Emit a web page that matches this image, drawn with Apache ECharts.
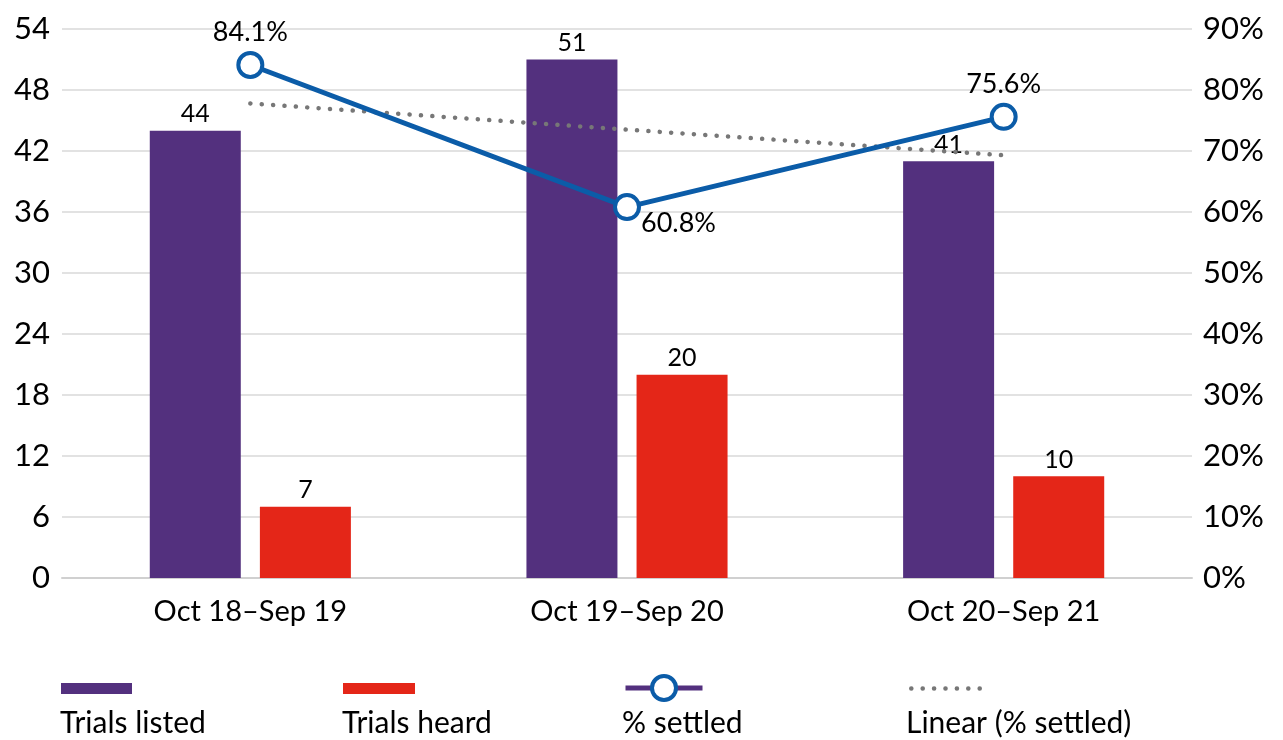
<!DOCTYPE html>
<html>
<head>
<meta charset="utf-8">
<script src="https://cdn.jsdelivr.net/npm/echarts@6/dist/echarts.min.js"></script>
<style>
  html, body { margin: 0; padding: 0; background: #fff; }
  #chart { width: 1283px; height: 740px; }
</style>
</head>
<body>
<div id="chart"></div>
<script>
// Court trial figures by reporting year
const categories = ['Oct 18\u2013Sep 19', 'Oct 19\u2013Sep 20', 'Oct 20\u2013Sep 21'];
const trialsListed = [44, 51, 41];
const trialsHeard = [7, 20, 10];
const pctSettled = [84.1, 60.8, 75.6];
const pctTrend = [77.8, 73.5, 69.3];
const seriesNames = ['Trials listed', 'Trials heard', '% settled', 'Linear (% settled)'];

const FONT = 'Lato';
const PURPLE = '#53307e';
const RED = '#e42618';
const BLUE = '#0b5ca8';
const GREY = '#777777';
const TREND_DASH = [0.1, 11.3];

const chart = echarts.init(document.getElementById('chart'), null, { renderer: 'canvas' });

const legendPos = [
  { left: 61, top: 683, w: 71, h: 11 },
  { left: 343, top: 683, w: 72, h: 11 },
  { left: 623, top: 673, w: 77, h: 30 },
  { left: 909, top: 683, w: 72, h: 11 }
];
const legendTextX = [60, 342, 622, 906];

const legends = seriesNames.map((name, i) => {
  const item = { name: name };
  if (i < 2) item.icon = 'rect';
  if (i === 2) {
    item.lineStyle = { color: PURPLE, width: 5 };
    item.itemStyle = { color: '#fff', borderColor: BLUE, borderWidth: 4 };
  }
  if (i === 3) {
    item.lineStyle = { color: GREY, width: 4.5, type: TREND_DASH, cap: 'round' };
    item.itemStyle = { opacity: 0 };
  }
  return {
    show: true,
    left: legendPos[i].left,
    top: legendPos[i].top,
    padding: 0,
    itemWidth: legendPos[i].w,
    itemHeight: legendPos[i].h,
    itemGap: 0,
    selectedMode: false,
    formatter: () => '',
    textStyle: { fontSize: 1 },
    data: [item]
  };
});

const option = {
  backgroundColor: '#fff',
  animation: false,
  textStyle: { fontFamily: FONT, color: '#000' },
  grid: { left: 62, right: 91, top: 29, bottom: 162, containLabel: false },
  legend: legends,
  graphic: seriesNames.map((name, i) => ({
    type: 'text',
    left: legendTextX[i],
    top: 708,
    style: { text: name, font: '30px ' + FONT, fill: '#000' }
  })),
  xAxis: {
    type: 'category',
    data: categories,
    axisTick: { show: false },
    axisLine: { lineStyle: { color: '#d0d0d0', width: 2 } },
    axisLabel: { color: '#000', fontSize: 29, fontFamily: FONT, margin: 19 }
  },
  yAxis: [
    {
      type: 'value', min: 0, max: 54, interval: 6,
      axisLine: { show: false }, axisTick: { show: false },
      splitLine: { lineStyle: { color: '#d9d9d9', width: 1.5 } },
      axisLabel: { color: '#000', fontSize: 31, fontFamily: FONT, margin: 12 }
    },
    {
      type: 'value', min: 0, max: 90, interval: 10,
      axisLine: { show: false }, axisTick: { show: false },
      splitLine: { show: false },
      axisLabel: { color: '#000', fontSize: 31, fontFamily: FONT, margin: 11, formatter: '{value}%' }
    }
  ],
  series: [
    {
      name: seriesNames[0], type: 'bar', data: trialsListed,
      barWidth: 91, barGap: '21%',
      itemStyle: { color: PURPLE },
      label: { show: true, position: 'top', distance: 4, color: '#000', fontSize: 25, fontFamily: FONT }
    },
    {
      name: seriesNames[1], type: 'bar', data: trialsHeard,
      barWidth: 91, barGap: '21%',
      itemStyle: { color: RED },
      label: { show: true, position: 'top', distance: 4, color: '#000', fontSize: 25, fontFamily: FONT }
    },
    {
      name: seriesNames[3], type: 'line', yAxisIndex: 1, data: pctTrend,
      symbol: 'circle', showSymbol: false, z: 3,
      lineStyle: { color: GREY, width: 4.5, type: TREND_DASH, cap: 'round' },
      itemStyle: { color: GREY },
      emphasis: { disabled: true }
    },
    {
      name: seriesNames[2], type: 'line', yAxisIndex: 1,
      data: pctSettled.map((v, i) => ({
        value: v,
        label: i === 1
          ? { position: 'right', distance: 0, offset: [0, 16] }
          : { position: 'top', distance: 5 }
      })),
      symbol: 'circle', symbolSize: 24, z: 4,
      lineStyle: { color: BLUE, width: 5 },
      itemStyle: { color: '#fff', borderColor: BLUE, borderWidth: 4 },
      label: {
        show: true, color: '#000', fontSize: 27, fontFamily: FONT,
        formatter: p => p.value.toFixed(1) + '%'
      },
      emphasis: { disabled: true }
    }
  ]
};

chart.setOption(option);
</script>
</body>
</html>
